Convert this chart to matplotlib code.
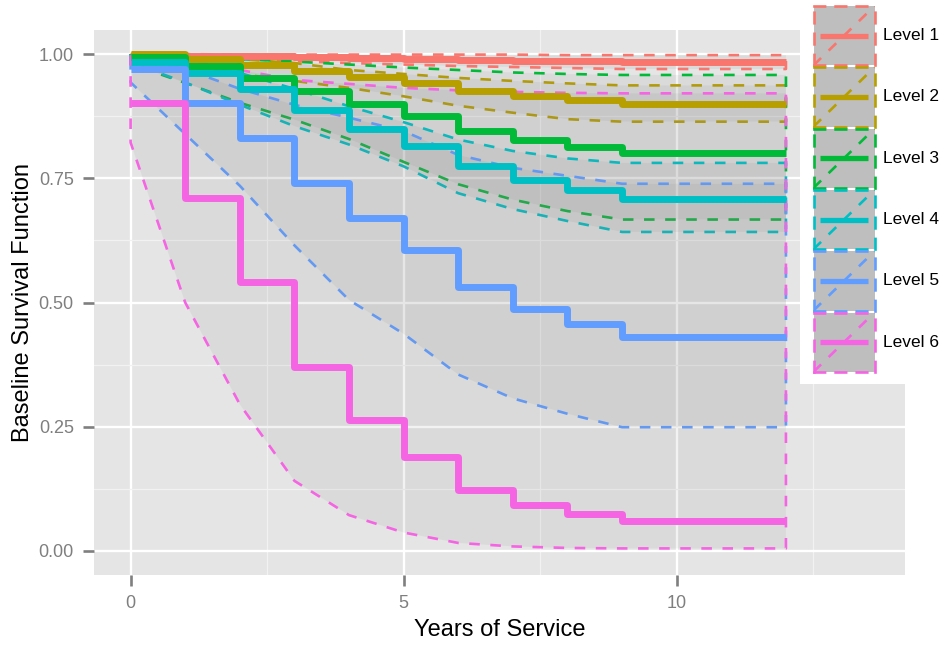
import numpy as np
import matplotlib
matplotlib.use('Agg')
import matplotlib.pyplot as plt
from matplotlib.patches import Rectangle
from matplotlib.ticker import MultipleLocator

plt.rcParams['font.family'] = ['Liberation Sans', 'DejaVu Sans']

# ---- survival estimates by year of service (0..12) ----
years = [0, 1, 2, 3, 4, 5, 6, 7, 8, 9, 10, 11, 12]
levels = ['Level 1', 'Level 2', 'Level 3', 'Level 4', 'Level 5', 'Level 6']
colors = ['#F8766D', '#B79F00', '#00BA38', '#00BFC4', '#619CFF', '#F564E3']

surv_l1 = [0.999, 0.997, 0.996, 0.995, 0.993, 0.991, 0.989, 0.987, 0.986, 0.985, 0.985, 0.985, 0.985]
upper_l1 = [1.000, 1.000, 0.999, 0.999, 0.999, 0.999, 0.999, 0.999, 0.998, 0.998, 0.998, 0.998, 0.998]
lower_l1 = [0.997, 0.993, 0.990, 0.986, 0.982, 0.979, 0.976, 0.974, 0.972, 0.970, 0.970, 0.970, 0.970]

surv_l2 = [1.000, 0.991, 0.978, 0.965, 0.953, 0.941, 0.925, 0.915, 0.908, 0.900, 0.900, 0.900, 0.900]
upper_l2 = [1.000, 0.998, 0.990, 0.982, 0.968, 0.960, 0.952, 0.946, 0.941, 0.937, 0.937, 0.937, 0.937]
lower_l2 = [0.999, 0.975, 0.960, 0.946, 0.932, 0.915, 0.896, 0.882, 0.869, 0.864, 0.864, 0.864, 0.864]

surv_l3 = [0.995, 0.976, 0.952, 0.925, 0.900, 0.876, 0.846, 0.827, 0.813, 0.800, 0.800, 0.800, 0.800]
upper_l3 = [1.000, 0.995, 0.990, 0.985, 0.979, 0.973, 0.968, 0.963, 0.960, 0.958, 0.958, 0.958, 0.958]
lower_l3 = [0.980, 0.942, 0.902, 0.868, 0.829, 0.783, 0.738, 0.707, 0.684, 0.667, 0.667, 0.667, 0.667]

surv_l4 = [0.985, 0.962, 0.930, 0.887, 0.849, 0.815, 0.774, 0.746, 0.726, 0.708, 0.708, 0.708, 0.708]
upper_l4 = [1.000, 0.985, 0.962, 0.930, 0.895, 0.863, 0.828, 0.805, 0.790, 0.781, 0.781, 0.781, 0.781]
lower_l4 = [0.983, 0.943, 0.898, 0.855, 0.818, 0.774, 0.720, 0.688, 0.664, 0.642, 0.642, 0.642, 0.642]

surv_l5 = [0.970, 0.902, 0.832, 0.741, 0.670, 0.605, 0.531, 0.487, 0.457, 0.430, 0.430, 0.430, 0.430]
upper_l5 = [0.990, 0.970, 0.930, 0.898, 0.872, 0.845, 0.797, 0.771, 0.755, 0.739, 0.739, 0.739, 0.739]
lower_l5 = [0.943, 0.839, 0.735, 0.615, 0.505, 0.437, 0.355, 0.307, 0.276, 0.249, 0.249, 0.249, 0.249]

surv_l6 = [0.902, 0.710, 0.542, 0.370, 0.263, 0.190, 0.123, 0.092, 0.074, 0.061, 0.061, 0.061, 0.061]
upper_l6 = [0.998, 0.988, 0.968, 0.948, 0.940, 0.932, 0.927, 0.924, 0.922, 0.921, 0.921, 0.921, 0.921]
lower_l6 = [0.822, 0.500, 0.295, 0.141, 0.072, 0.037, 0.016, 0.009, 0.006, 0.005, 0.005, 0.005, 0.005]

surv = [surv_l1, surv_l2, surv_l3, surv_l4, surv_l5, surv_l6]
upper = [upper_l1, upper_l2, upper_l3, upper_l4, upper_l5, upper_l6]
lower = [lower_l1, lower_l2, lower_l3, lower_l4, lower_l5, lower_l6]

W, H = 948, 646
fig = plt.figure(figsize=(W / 100, H / 100), dpi=100)
ax = fig.add_axes([94 / W, 1 - 575 / H, (905 - 94) / W, (575 - 30) / H])
ax.set_facecolor('#E5E5E5')
for s in ax.spines.values():
    s.set_visible(False)

dash = (0, (4, 4))
# confidence bands first, then the step curves
for i in range(6):
    ax.fill_between(years, lower[i], upper[i], facecolor=(0.5, 0.5, 0.5, 0.1),
                    edgecolor=colors[i], linestyle=dash, linewidth=1.9, zorder=2)
for i in range(6):
    ax.step(years, surv[i], where='post', color=colors[i], lw=5,
            solid_capstyle='butt', zorder=3)

ax.set_xlim(-0.67, 14.18)
ax.set_ylim(-0.0485, 1.0485)
ax.set_xticks([0, 5, 10])
ax.set_yticks([0, 0.25, 0.5, 0.75, 1.0])
ax.set_yticklabels(['0.00', '0.25', '0.50', '0.75', '1.00'])
ax.xaxis.set_minor_locator(MultipleLocator(2.5))
ax.yaxis.set_minor_locator(MultipleLocator(0.125))
ax.grid(True, which='major', color='white', lw=1.7, zorder=0)
ax.grid(True, which='minor', color='#F2F2F2', lw=0.9, zorder=0)
ax.set_axisbelow(True)
ax.tick_params(which='major', length=8, width=1.9, color='#7F7F7F',
               labelcolor='#7F7F7F', labelsize=13, pad=6.5)
ax.tick_params(which='minor', length=0)
ax.set_xlabel('Years of Service', fontsize=17, labelpad=5)
ax.set_ylabel('Baseline Survival Function', fontsize=17, labelpad=3)

# legend: white backing box overlapping the panel, one key per level
fig.patches.append(Rectangle((800 / W, 1 - 384 / H), (W - 800) / W, 384 / H,
                             transform=fig.transFigure, facecolor='white',
                             edgecolor='none', zorder=5))
key_h = 61.3
for i in range(6):
    top = 5 + i * key_h
    kax = fig.add_axes([813.5 / W, 1 - (top + key_h - 1) / H, 61 / W, (key_h - 2) / H])
    kax.set_zorder(6)
    kax.set_facecolor('#BEBEBE')
    kax.set_xlim(0, 1)
    kax.set_ylim(0, 1)
    kax.set_xticks([])
    kax.set_yticks([])
    for s in kax.spines.values():
        s.set_color(colors[i])
        s.set_linestyle(dash)
        s.set_linewidth(1.9)
    kax.plot([0, 1], [0, 1], color=colors[i], lw=1.9, linestyle=dash)
    kax.plot([0.1, 0.9], [0.5, 0.5], color=colors[i], lw=3.8, solid_capstyle='butt')
    fig.text(883 / W, 1 - (top + key_h / 2) / H, levels[i], fontsize=12.5,
             va='center', ha='left', zorder=7)

fig.savefig('out.png', dpi=100)
